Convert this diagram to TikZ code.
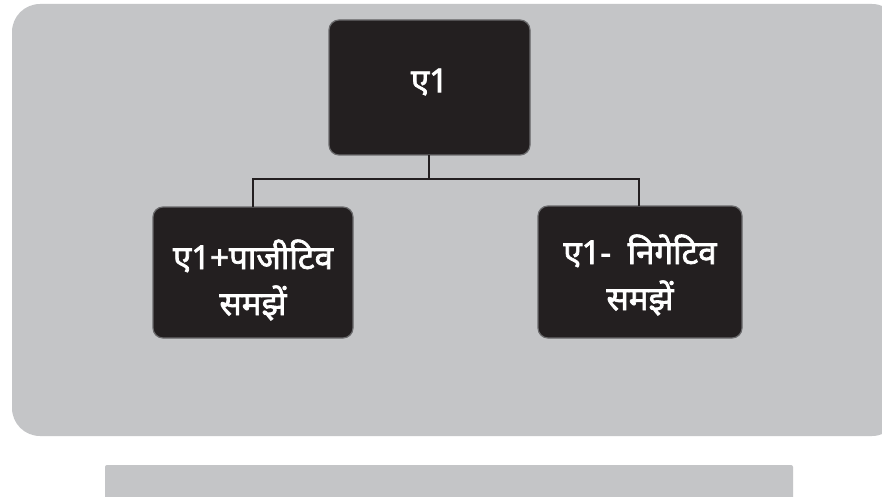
\documentclass[tikz,border=0pt]{standalone}
\usepackage{fontspec}
\newfontfamily\devfont[Script=Devanagari,FakeBold=2.2]{Noto Sans}
\definecolor{panelgray}{HTML}{C4C5C7}
\definecolor{boxblack}{HTML}{231F20}
\definecolor{edgegray}{HTML}{6A6A6C}
\tikzset{
  panel/.style={fill=panelgray, draw=none},
  darkbox/.style={fill=boxblack, draw=edgegray, line width=1.2pt, rounded corners=10pt},
  lbl/.style={text=white, font=\devfont\fontsize{33}{46}\selectfont, align=center},
  link/.style={draw=boxblack, line width=1.6pt}
}
\begin{document}
\begin{tikzpicture}[x=1pt,y=-1pt]
\useasboundingbox (0,0) rectangle (882,497);
\fill[white] (0,0) rectangle (882,497);
% big panel
\path[panel, rounded corners=28pt] (12,4) rectangle (900,436);
% bottom bar
\path[panel, rounded corners=2pt] (105,465) rectangle (793,520);
% boxes
\path[darkbox] (329,20) rectangle (530,155);
\node[lbl] (top) at (429.5,82) {ए1};
\coordinate (topb) at (429,155);
\path[darkbox] (153,207) rectangle (353,338);
\node[lbl] (left) at (253,280) {ए1+पाजीटिव\\समझें};
\coordinate (leftt) at (253,207);
\path[darkbox] (538,206) rectangle (742,338);
\node[lbl] (right) at (640,275) {ए1-\hspace{0.5em}निगेटिव\\समझें};
\coordinate (rightt) at (639,206);
% connectors
\coordinate (mid) at (429,179);
\draw[link] (topb) -- (mid);
\draw[link] (leftt) |- (mid) -| (rightt);
\end{tikzpicture}
\end{document}
